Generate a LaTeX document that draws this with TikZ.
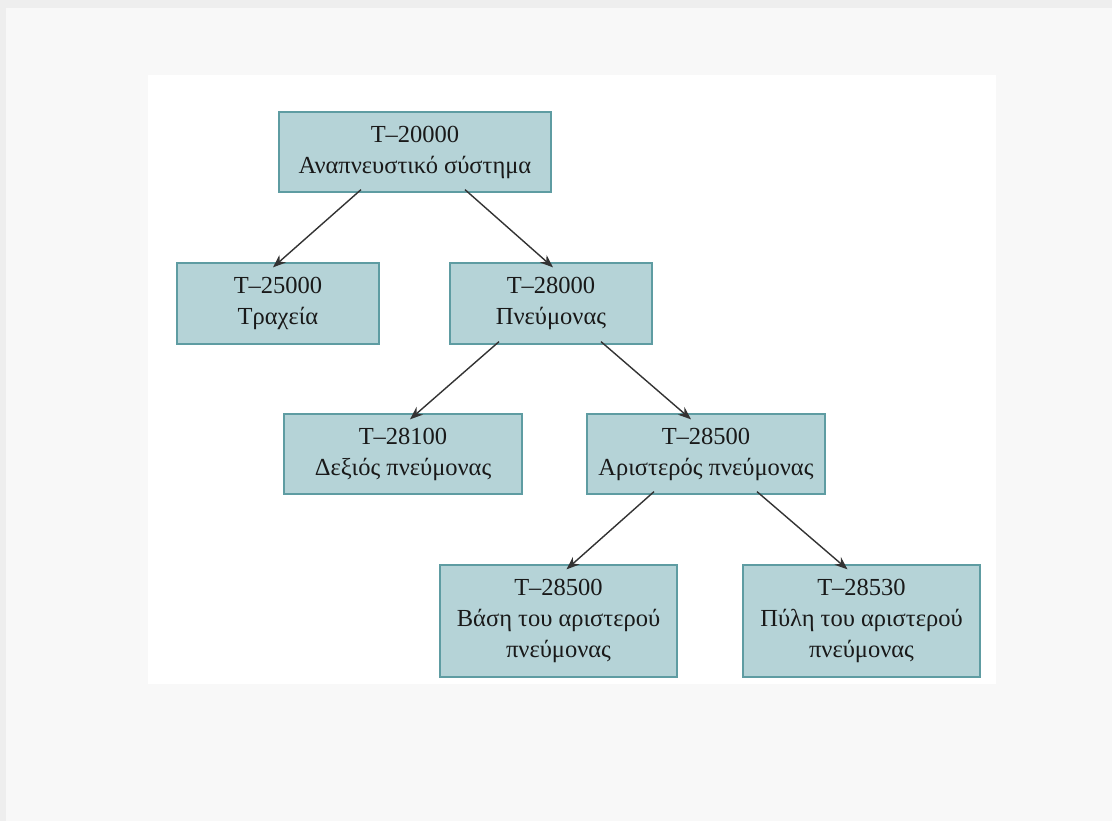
\documentclass[tikz,border=0pt]{standalone}
\usepackage{fontspec}
\setmainfont{Liberation Serif}
\usetikzlibrary{arrows.meta}
\definecolor{boxfill}{HTML}{B5D3D7}
\definecolor{boxline}{HTML}{5E9CA2}
\definecolor{pagebg}{HTML}{F8F8F8}
\definecolor{edgegray}{HTML}{EEEEEE}
\tikzset{
  term/.style={draw=boxline, fill=boxfill, line width=1.3pt, align=center,
    inner sep=0pt, text=black!90,
    font=\fontsize{24.5}{31}\selectfont},
  link/.style={draw=black!80, line width=1.4pt,
    -{Stealth[length=13pt,width=10pt]}}
}
\begin{document}
\begin{tikzpicture}[x=1pt,y=-1pt]
  % page, shaded edges and white panel
  \useasboundingbox (0,0) rectangle (1112,821);
  \fill[pagebg] (0,0) rectangle (1112,821);
  \fill[edgegray] (0,0) rectangle (1112,8);
  \fill[edgegray] (0,0) rectangle (6,821);
  \fill[white] (148,75) rectangle (996,684);

  % terms of the hierarchy
  \node[term, minimum width=272pt, minimum height=80pt] (root) at (415,152)
    {T–20000\\Αναπνευστικό σύστημα};
  \node[term, minimum width=202pt, minimum height=81pt] (trach) at (278,303.5)
    {T–25000\\Τραχεία};
  \node[term, minimum width=202pt, minimum height=81pt] (lung) at (551,303.5)
    {T–28000\\Πνεύμονας};
  \node[term, minimum width=238pt, minimum height=80pt] (rlung) at (403,454)
    {T–28100\\Δεξιός πνεύμονας};
  \node[term, minimum width=238pt, minimum height=80pt] (llung) at (706,454)
    {T–28500\\Αριστερός πνεύμονας};
  \node[term, minimum width=237pt, minimum height=112pt] (base) at (558.5,621)
    {T–28500\\Βάση του αριστερού\\πνεύμονας};
  \node[term, minimum width=237pt, minimum height=112pt] (hilum) at (861.5,621)
    {T–28530\\Πύλη του αριστερού\\πνεύμονας};

  % parent-to-child links
  \draw[link] ([xshift=-54pt,yshift=3pt]root.south) -- ([xshift=-5pt,yshift=-5pt]trach.north);
  \draw[link] ([xshift=50pt,yshift=3pt]root.south) -- ([xshift=2pt,yshift=-5pt]lung.north);
  \draw[link] ([xshift=-52pt,yshift=3pt]lung.south) -- ([xshift=7pt,yshift=-6pt]rlung.north);
  \draw[link] ([xshift=50pt,yshift=3pt]lung.south) -- ([xshift=-15pt,yshift=-6pt]llung.north);
  \draw[link] ([xshift=-52pt,yshift=3pt]llung.south) -- ([xshift=8pt,yshift=-5pt]base.north);
  \draw[link] ([xshift=51pt,yshift=3pt]llung.south) -- ([xshift=-14pt,yshift=-5pt]hilum.north);
\end{tikzpicture}
\end{document}
